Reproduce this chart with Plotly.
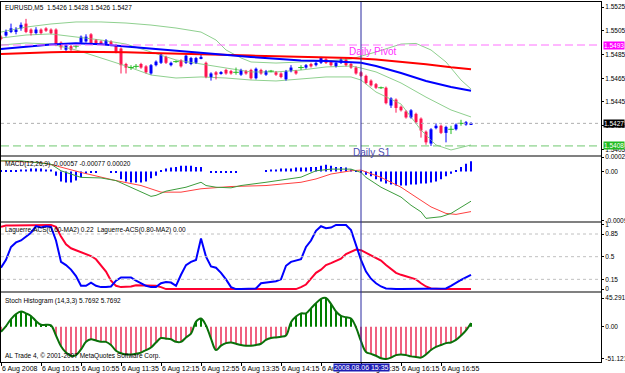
import plotly.graph_objects as go
import pandas as pd

# ---------------- data ----------------
START_TIME = "2008-08-06 09:35"
OPEN = [1.5500,1.5501,1.5504,1.5504,1.5507,1.5511,1.5506,1.5503,1.5506,1.5507,
        1.5506,1.5506,1.5495,1.5489,1.5492,1.5492,1.5495,1.5496,1.5502,1.5497,
        1.5496,1.5494,1.5496,1.5493,1.5490,1.5477,1.5474,1.5475,1.5477,1.5475,
        1.5469,1.5476,1.5478,1.5483,1.5476,1.5479,1.5480,1.5478,1.5477,1.5478,
        1.5482,1.5478,1.5466,1.5470,1.5469,1.5472,1.5471,1.5470,1.5468,1.5471,
        1.5472,1.5465,1.5472,1.5468,1.5471,1.5470,1.5469,1.5464,1.5471,1.5471,
        1.5474,1.5474,1.5477,1.5476,1.5478,1.5481,1.5479,1.5475,1.5478,1.5481,
        1.5477,1.5474,1.5470,1.5467,1.5463,1.5460,1.5457,1.5457,1.5442,1.5447,
        1.5441,1.5437,1.5432,1.5435,1.5431,1.5420,1.5410,1.5423,1.5425,1.5419,
        1.5422,1.5422,1.5427,1.5426,1.5426]
HIGH = [1.5501,1.5506,1.5511,1.5508,1.5512,1.5515,1.5507,1.5508,1.5507,1.5508,
        1.5507,1.5507,1.5496,1.5494,1.5493,1.5493,1.5501,1.5502,1.5503,1.5498,
        1.5497,1.5498,1.5497,1.5494,1.5491,1.5478,1.5476,1.5477,1.5478,1.5476,
        1.5477,1.5480,1.5486,1.5484,1.5479,1.5480,1.5481,1.5485,1.5483,1.5483,
        1.5485,1.5479,1.5470,1.5471,1.5471,1.5473,1.5472,1.5474,1.5473,1.5472,
        1.5473,1.5474,1.5473,1.5472,1.5472,1.5471,1.5470,1.5472,1.5476,1.5472,
        1.5476,1.5477,1.5478,1.5479,1.5483,1.5482,1.5480,1.5479,1.5482,1.5482,
        1.5478,1.5475,1.5471,1.5468,1.5464,1.5461,1.5458,1.5458,1.5449,1.5448,
        1.5442,1.5438,1.5439,1.5436,1.5432,1.5421,1.5423,1.5427,1.5426,1.5425,
        1.5425,1.5427,1.5430,1.5429,1.5428]
LOW = [1.5497,1.5500,1.5503,1.5502,1.5505,1.5503,1.5501,1.5502,1.5502,1.5504,
       1.5502,1.5492,1.5489,1.5488,1.5488,1.5490,1.5494,1.5495,1.5493,1.5493,
       1.5493,1.5493,1.5492,1.5486,1.5469,1.5469,1.5472,1.5473,1.5473,1.5469,
       1.5468,1.5475,1.5477,1.5477,1.5475,1.5478,1.5474,1.5477,1.5476,1.5477,
       1.5481,1.5465,1.5463,1.5464,1.5468,1.5468,1.5468,1.5468,1.5467,1.5468,
       1.5464,1.5464,1.5468,1.5467,1.5470,1.5467,1.5465,1.5463,1.5470,1.5468,
       1.5472,1.5473,1.5474,1.5475,1.5477,1.5477,1.5475,1.5474,1.5477,1.5475,
       1.5473,1.5468,1.5466,1.5460,1.5458,1.5456,1.5456,1.5443,1.5440,1.5436,
       1.5437,1.5431,1.5431,1.5427,1.5415,1.5409,1.5408,1.5422,1.5418,1.5411,
       1.5418,1.5421,1.5425,1.5425,1.5426]
CLOSE = [1.5498,1.5504,1.5507,1.5506,1.5510,1.5504,1.5503,1.5506,1.5503,1.5505,
         1.5503,1.5493,1.5491,1.5493,1.5489,1.5492,1.5500,1.5500,1.5494,1.5494,
         1.5494,1.5497,1.5493,1.5487,1.5476,1.5474,1.5474,1.5475,1.5474,1.5470,
         1.5476,1.5479,1.5485,1.5478,1.5478,1.5479,1.5475,1.5484,1.5482,1.5482,
         1.5483,1.5466,1.5469,1.5468,1.5470,1.5469,1.5469,1.5470,1.5472,1.5469,
         1.5465,1.5473,1.5469,1.5471,1.5471,1.5468,1.5466,1.5471,1.5474,1.5469,
         1.5474,1.5476,1.5475,1.5478,1.5482,1.5478,1.5476,1.5478,1.5481,1.5476,
         1.5474,1.5469,1.5467,1.5461,1.5459,1.5457,1.5457,1.5444,1.5448,1.5440,
         1.5438,1.5432,1.5438,1.5428,1.5421,1.5411,1.5422,1.5425,1.5419,1.5424,
         1.5422,1.5426,1.5427,1.5428,1.5427]

# moving averages (bar index, value)
BLUE_MA_IDX = [0,5,10,15,20,25,30,35,40,45,50,55,60,65,70,72,75,80,85,90,94]
BLUE_MA = [1.54896,1.54916,1.54934,1.54945,1.54936,1.54918,1.54900,1.54880,1.54863,
           1.54843,1.54829,1.54814,1.54800,1.54795,1.54787,1.54780,1.54753,1.54694,
           1.54627,1.54576,1.54545]
RED_MA_IDX = [0,5,10,15,20,25,30,35,40,45,50,55,60,65,70,75,80,85,90,94]
RED_MA = [1.54854,1.54863,1.54869,1.54874,1.54874,1.54868,1.54863,1.54859,1.54852,
          1.54846,1.54841,1.54836,1.54832,1.54828,1.54821,1.54808,1.54790,1.54768,
          1.54742,1.54726]
BB_UP_IDX = [0,5,10,15,20,25,30,35,40,43,45,48,50,55,60,65,70,75,80,83,86,89,92,94]
BB_UP = [1.55039,1.55081,1.55107,1.55124,1.55124,1.55115,1.55098,1.55073,1.55039,
         1.54972,1.54888,1.54821,1.54787,1.54778,1.54787,1.54795,1.54812,1.54871,
         1.54938,1.54943,1.54888,1.54787,1.54635,1.54559]
BB_MID_IDX = [0,5,10,15,20,25,30,35,40,45,50,55,60,65,70,72,75,80,85,90,94]
BB_MID = [1.54989,1.55014,1.55023,1.54997,1.54972,1.54938,1.54871,1.54804,1.54770,
          1.54736,1.54703,1.54703,1.54719,1.54745,1.54753,1.54736,1.54703,1.54610,
          1.54491,1.54383,1.54324]
BB_LOW_IDX = [0,5,10,15,20,25,30,35,40,45,50,55,60,65,70,72,75,80,84,87,90,94]
BB_LOW = [1.54930,1.54947,1.54938,1.54888,1.54821,1.54753,1.54677,1.54652,1.54661,
          1.54652,1.54635,1.54627,1.54644,1.54661,1.54661,1.54635,1.54534,1.54433,
          1.54214,1.54088,1.54046,1.54088]

DAILY_PIVOT = 1.5493
DAILY_S1 = 1.5408
LAST_PRICE = 1.5427
PRICE_TICKS = [1.5405, 1.5425, 1.5445, 1.5465, 1.5485, 1.5505, 1.5525]

# MACD
MACD_HIST = [0.00002,0.00002,0.00002,0.00002,0.00004,0.00004,0.00006,0.00006,0.00006,0.00004,
             0.00004,-0.00008,-0.00019,-0.00021,-0.00021,-0.00017,-0.00011,-0.00004,-0.00002,-0.00002,
             0.0,0.0,-0.00002,-0.00002,-0.00015,-0.00019,-0.00021,-0.00021,-0.00021,-0.00019,
             -0.00013,-0.00008,0.00002,0.00006,0.00008,0.00009,0.00011,0.00011,0.00011,0.00009,
             0.00009,0.0,-0.00002,-0.00002,-0.00002,-0.00002,-0.00002,-0.00002,0.0,0.0,
             0.0,0.0,0.0,0.00002,0.00004,0.00004,0.00006,0.00006,0.00006,0.00008,
             0.00008,0.00008,0.00009,0.00009,0.00011,0.00013,0.00011,0.00009,0.00009,0.00008,
             0.00004,0.00002,-0.00002,-0.00006,-0.00009,-0.00015,-0.00019,-0.00023,-0.00025,-0.00027,
             -0.00027,-0.00027,-0.00025,-0.00025,-0.00023,-0.00023,-0.00021,-0.00019,-0.00015,-0.00009,
             -0.00004,0.00002,0.00009,0.00015,0.00020]
MACD_LINE_IDX = [0,4,10,12,16,20,23,26,30,31,33,37,40,41,43,46,48,53,60,63,66,70,72,73,76,80,82,84,85,88,90,94]
MACD_LINE = [0.000205,0.000205,0.000142,0.000015,-0.000112,-0.000123,-0.000174,-0.000301,
             -0.000477,-0.000458,-0.000377,-0.000301,-0.000206,-0.000269,-0.000301,-0.000313,
             -0.000269,-0.000206,-0.000108,0.000015,0.000047,0.000047,-0.000017,-0.000112,
             -0.000301,-0.000491,-0.000648,-0.000775,-0.000900,-0.000869,-0.000805,-0.00057]
MACD_SIG_IDX = [0,8,11,16,23,28,32,36,40,46,53,60,63,66,70,72,76,80,83,86,89,91,94]
MACD_SIG = [0.000205,0.000172,0.000110,-0.000017,-0.000174,-0.000269,-0.000396,-0.000396,
            -0.000331,-0.000288,-0.000269,-0.000206,-0.000142,-0.000047,0.000015,0.000028,
            -0.000112,-0.000301,-0.000491,-0.000680,-0.000805,-0.000824,-0.00077]

# Laguerre ACS
LAG_FAST = [0.33,0.45,0.65,0.72,0.75,0.81,0.87,0.97,0.95,0.97,
            0.96,0.75,0.42,0.37,0.30,0.20,0.05,0.05,0.10,0.05,
            0.03,0.03,0.04,0.13,0.18,0.18,0.18,0.13,0.09,0.05,
            0.03,0.03,0.09,0.11,0.10,0.05,0.22,0.37,0.42,0.45,
            0.78,0.50,0.35,0.33,0.25,0.15,0.03,0.0,0.0,0.0,
            0.0,0.01,0.09,0.10,0.11,0.12,0.15,0.36,0.42,0.44,
            0.46,0.65,0.75,0.90,0.97,0.94,0.95,0.99,0.99,0.99,
            0.91,0.67,0.45,0.27,0.16,0.09,0.04,0.01,0.0,0.0,
            0.0,0.0,0.0,0.0,0.0,0.0,0.0,0.0,0.0,0.01,
            0.05,0.10,0.14,0.18,0.22]
LAG_SLOW = [0.96,0.98,0.98,0.98,0.98,0.98,0.98,0.98,0.98,0.98,
            0.99,0.96,0.81,0.69,0.63,0.60,0.57,0.55,0.51,0.46,
            0.37,0.27,0.13,0.05,0.03,0.03,0.04,0.06,0.06,0.06,
            0.06,0.05,0.03,0.0,0.0,0.0,0.0,0.0,0.0,0.0,
            0.0,0.0,0.0,0.0,0.0,0.0,0.0,0.0,0.0,0.0,
            0.0,0.0,0.0,0.0,0.0,0.0,0.0,0.0,0.0,0.0,
            0.03,0.07,0.16,0.25,0.30,0.37,0.40,0.43,0.47,0.54,
            0.58,0.61,0.60,0.56,0.52,0.48,0.44,0.37,0.31,0.25,
            0.22,0.20,0.18,0.15,0.09,0.04,0.01,0.0,0.0,0.0,
            0.0,0.0,0.0,0.0,0.0]
LAG_LEVELS = [0.85, 0.5, 0.15]

# Stoch histogram
STOCH = [-8,1,12,20,24,21,17,9,3,3,
         2,-14,-31,-41,-46,-45,-36,-24,-20,-22,
         -24,-24,-29,-38,-42,-44,-44,-43,-41,-37,
         -33,-25,-18,-19,-20,-24,-24,-17,-11,8,
         13,2,-19,-37,-30,-26,-25,-27,-29,-30,
         -30,-29,-27,-21,-18,-17,-16,-14,7,16,
         21,21,29,37,44,45.2915,36,24,17,15,
         13,-1,-23,-40,-43,-46,-50,-51.1215,-49,-45,
         -44,-45,-47,-48,-49,-44,-37,-32,-29,-26,
         -25,-21,-14,-6,5.7692]

TICK_TIMES = ["09:35","10:15","10:55","11:35","12:15","12:55","13:35","14:15",
              "14:55","15:35","16:15","16:55"]
TICK_TEXT = ["6 Aug 2008","6 Aug 10:15","6 Aug 10:55","6 Aug 11:35","6 Aug 12:15",
             "6 Aug 12:55","6 Aug 13:35","6 Aug 14:15","6 Aug 14:55","6 Aug 15:35",
             "6 Aug 16:15","6 Aug 16:55"]
CURSOR_TIME = "2008-08-06 15:35"

# ---------------- figure ----------------
times = pd.date_range(START_TIME, periods=len(OPEN), freq="5min")
def tt(idx):
    return [times[i] for i in idx]

BULL = "#0000ff"
BEAR = "#ff1450"
DOJI = "#22bb22"
FONT = "Liberation Sans"
FS = 7       # x tick labels
FY = 6.5     # y tick labels / titles

fig = go.Figure()

def wicks(ids, color):
    xs, ys = [], []
    for i in ids:
        xs += [times[i], times[i], None]
        ys += [LOW[i], HIGH[i], None]
    fig.add_trace(go.Scatter(x=xs, y=ys, mode="lines", line=dict(color=color, width=1),
                             xaxis="x", yaxis="y", hoverinfo="skip"))

n = len(OPEN)
bull = [i for i in range(n) if CLOSE[i] > OPEN[i]]
bear = [i for i in range(n) if CLOSE[i] < OPEN[i]]
doji = [i for i in range(n) if CLOSE[i] == OPEN[i]]

# Bollinger bands
for idx, vals in [(BB_UP_IDX, BB_UP), (BB_MID_IDX, BB_MID), (BB_LOW_IDX, BB_LOW)]:
    fig.add_trace(go.Scatter(x=tt(idx), y=vals, mode="lines", line=dict(color="#8fd08f", width=1),
                             xaxis="x", yaxis="y"))

wicks(bull, BULL)
wicks(bear, BEAR)
wicks(doji, DOJI)
for ids, col in [(bull, BULL), (bear, BEAR)]:
    fig.add_trace(go.Bar(x=tt(ids), y=[abs(CLOSE[i] - OPEN[i]) for i in ids],
                         base=[min(OPEN[i], CLOSE[i]) for i in ids],
                         width=3 * 60 * 1000, marker=dict(color=col, line=dict(width=0)),
                         xaxis="x", yaxis="y"))
fig.add_trace(go.Scatter(x=tt(doji), y=[CLOSE[i] for i in doji], mode="markers",
                         marker=dict(symbol="line-ew", size=4, line=dict(color=DOJI, width=1)),
                         xaxis="x", yaxis="y"))

fig.add_trace(go.Scatter(x=tt(RED_MA_IDX), y=RED_MA, mode="lines", line=dict(color="#ff0000", width=2),
                         xaxis="x", yaxis="y"))
fig.add_trace(go.Scatter(x=tt(BLUE_MA_IDX), y=BLUE_MA, mode="lines", line=dict(color="#0000ff", width=2),
                         xaxis="x", yaxis="y"))

# MACD
fig.add_trace(go.Bar(x=times, y=MACD_HIST, width=2 * 60 * 1000, marker=dict(color="#0000ff", line=dict(width=0)),
                     xaxis="x2", yaxis="y2"))
fig.add_trace(go.Scatter(x=tt(MACD_SIG_IDX), y=MACD_SIG, mode="lines", line=dict(color="#ff4040", width=1),
                         xaxis="x2", yaxis="y2"))
fig.add_trace(go.Scatter(x=tt(MACD_LINE_IDX), y=MACD_LINE, mode="lines", line=dict(color="#3c9c3c", width=1),
                         xaxis="x2", yaxis="y2"))

# Laguerre
fig.add_trace(go.Scatter(x=times, y=LAG_SLOW, mode="lines", line=dict(color="#ff0030", width=2),
                         xaxis="x3", yaxis="y3"))
fig.add_trace(go.Scatter(x=times, y=LAG_FAST, mode="lines", line=dict(color="#0000ff", width=2),
                         xaxis="x3", yaxis="y3"))

# Stoch histogram
pos = [i for i in range(n) if STOCH[i] > 0]
neg = [i for i in range(n) if STOCH[i] < 0]
fig.add_trace(go.Bar(x=tt(pos), y=[STOCH[i] for i in pos], width=1.5 * 60 * 1000,
                     marker=dict(color="#008000", line=dict(width=0)), xaxis="x4", yaxis="y4"))
fig.add_trace(go.Bar(x=tt(neg), y=[STOCH[i] for i in neg], width=1.5 * 60 * 1000,
                     marker=dict(color="#f06080", line=dict(width=0)), xaxis="x4", yaxis="y4"))
fig.add_trace(go.Scatter(x=times, y=STOCH, mode="lines", line=dict(color="#0a700a", width=2, shape="spline"),
                         xaxis="x4", yaxis="y4"))

# ---------------- layout ----------------
H_TOP, H_BOT = 2, 362
def py(y):  # pixel row -> paper fraction
    return (H_BOT - y) / (H_BOT - H_TOP)

xr = ["2008-08-06 09:35", "2008-08-06 19:35"]
axcommon = dict(range=xr, type="date", showgrid=False, zeroline=False, showline=True,
                linecolor="#000000", linewidth=1, mirror=True, showticklabels=False, ticks="",
                automargin=False)
ycommon = dict(side="right", showgrid=False, zeroline=False, showline=True, linecolor="#000000",
               linewidth=1, mirror=True, ticks="outside", ticklen=2, tickcolor="#000000",
               ticklabelstandoff=0,
               automargin=False, tickfont=dict(family=FONT, size=FY, color="#000000"))

def fmt(v):
    return f"{v:.4f}"

layout = dict(
    width=625, height=373, margin=dict(l=1, r=24, t=H_TOP, b=373 - H_BOT, autoexpand=False),
    paper_bgcolor="white", plot_bgcolor="white", showlegend=False, barmode="overlay",
    xaxis=dict(axcommon, domain=[0, 1], anchor="y"),
    xaxis2=dict(axcommon, domain=[0, 1], anchor="y2", matches="x"),
    xaxis3=dict(axcommon, domain=[0, 1], anchor="y3", matches="x"),
    xaxis4=dict(axcommon, domain=[0, 1], anchor="y4", matches="x", showticklabels=True,
                ticks="outside", ticklen=3, tickcolor="#000000", tickangle=0,
                tickvals=["2008-08-06 " + s for s in TICK_TIMES], ticktext=TICK_TEXT,
                ticklabelposition="outside right", ticklabelstandoff=0,
                tickfont=dict(family=FONT, size=FS, color="#000000")),
    yaxis=dict(ycommon, domain=[py(155), 1], range=[1.540036, 1.552921],
               tickvals=PRICE_TICKS, ticktext=[fmt(v) for v in PRICE_TICKS]),
    yaxis2=dict(ycommon, domain=[py(221), py(157)], range=[-0.000951, 0.00028],
                tickvals=[0.00028, 0.0, -0.00095], ticktext=["0.00028", "0.00", "-0.00095"]),
    yaxis3=dict(ycommon, domain=[py(291), py(223)], range=[-0.03, 1.02],
                tickvals=[1, 0.85, 0.5, 0.15, 0], ticktext=["1", "0.85", "0.5", "0.15", "0"]),
    yaxis4=dict(ycommon, domain=[0, py(293)], range=[-55.9, 53.3],
                tickvals=[45.2915, 0, -51.1215], ticktext=["45.2915", "0.00", "-51.1215"]),
)
fig.update_layout(**layout)

shapes = []
# separators
for y0, y1 in [(155, 157), (221, 223), (291, 293)]:
    shapes.append(dict(type="rect", xref="paper", yref="paper", x0=0, x1=1, y0=py(y1), y1=py(y0),
                       fillcolor="#808080", line=dict(width=0), layer="above"))
# pivot / s1 / last price
shapes.append(dict(type="line", xref="x domain", yref="y", x0=0, x1=1, y0=DAILY_PIVOT, y1=DAILY_PIVOT,
                   line=dict(color="#ff70ff", width=1, dash="8px,4px")))
shapes.append(dict(type="line", xref="x domain", yref="y", x0=0, x1=1, y0=DAILY_S1, y1=DAILY_S1,
                   line=dict(color="#70c870", width=1, dash="8px,4px")))
shapes.append(dict(type="line", xref="x domain", yref="y", x0=0, x1=1, y0=LAST_PRICE, y1=LAST_PRICE,
                   line=dict(color="#b0b0b0", width=1, dash="dot")))
for lv in LAG_LEVELS:
    shapes.append(dict(type="line", xref="x3 domain", yref="y3", x0=0, x1=1, y0=lv, y1=lv,
                       line=dict(color="#c0c0c0", width=1, dash="dot")))
# cursor line
shapes.append(dict(type="line", xref="x", yref="paper", x0=CURSOR_TIME, x1=CURSOR_TIME, y0=0, y1=1,
                   line=dict(color="#2828a0", width=1), layer="above"))
fig.update_layout(shapes=shapes)

ann = []
def label(text, x, y, color="#000000", size=FY, xref="paper", yref="paper", xanchor="left",
          yanchor="top", bg=None):
    d = dict(text=text, x=x, y=y, xref=xref, yref=yref, xanchor=xanchor, yanchor=yanchor,
             showarrow=False, font=dict(family=FONT, size=size, color=color), borderpad=0)
    if bg:
        d["bgcolor"] = bg
    ann.append(d)

label("EURUSD,M5  1.5426 1.5428 1.5426 1.5427", 0.005, py(3))
label("MACD(12,26,9) -0.00057 -0.00077 0.00020", 0.005, py(159))
label("Laguerre-ACS(0.60-MA2) 0.22  Laguerre-ACS(0.80-MA2) 0.00", 0.005, py(225))
label("Stoch Histogram (14,3,3) 5.7692 5.7692", 0.005, py(296))
label("AL Trade 4, \u00a9 2001-2007 MetaQuotes Software Corp.", 0.005, py(351))
label("Daily Pivot", "2008-08-06 15:22", DAILY_PIVOT, color="#ff30ff", size=10, xref="x", yref="y")
label("Daily S1", "2008-08-06 15:26", DAILY_S1, color="#4c4cb0", size=10, xref="x", yref="y")
for v, bg in [(DAILY_PIVOT, "#ff00ff"), (LAST_PRICE, "#000000"), (DAILY_S1, "#22bb22")]:
    label(fmt(v), 1.003, v, color="#ffffff", xref="paper", yref="y", yanchor="middle", bg=bg)
label("2008.08.06 15:35", CURSOR_TIME, -0.003, color="#ffffff", size=FS, xref="x4", yref="paper",
      xanchor="center", bg="#1c1cb4")
fig.update_layout(annotations=ann)

fig.write_html("out.html")
